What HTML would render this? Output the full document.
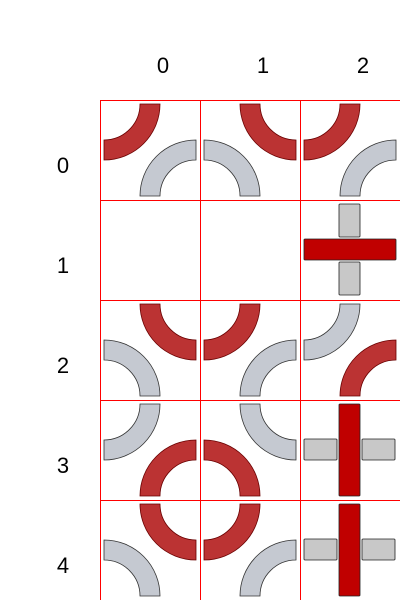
<!DOCTYPE html>
<html><head><meta charset="utf-8"><style>
html,body{margin:0;padding:0;background:#fff;}
svg{display:block;font-family:"Liberation Sans",sans-serif;}
</style></head><body>
<svg id="c" width="400" height="600" viewBox="0 0 400 600"></svg>
<script>
const colLabels = ["0","1","2"];
const rowLabels = ["0","1","2","3","4"];
// arc tiles: red corner / grey corner; cross tiles: orientation of red bar
const tiles = [
  [{t:"arc",red:"TL",grey:"BR"},{t:"arc",red:"TR",grey:"BL"},{t:"arc",red:"TL",grey:"BR"}],
  [{t:"empty"},{t:"empty"},{t:"cross",red:"h"}],
  [{t:"arc",red:"TR",grey:"BL"},{t:"arc",red:"TL",grey:"BR"},{t:"arc",red:"BR",grey:"TL"}],
  [{t:"arc",red:"BR",grey:"TL"},{t:"arc",red:"BL",grey:"TR"},{t:"cross",red:"v"}],
  [{t:"arc",red:"TR",grey:"BL"},{t:"arc",red:"TL",grey:"BR"},{t:"cross",red:"v"}]
];
const NS="http://www.w3.org/2000/svg";
const svg=document.getElementById("c");
const X0=100,Y0=100,CS=100,INS=4,R1=36,R2=56;
const cx=i=>X0+i*CS, cy=j=>Y0+j*CS;
function mk(tag,attrs){const e=document.createElementNS(NS,tag);for(const k in attrs)e.setAttribute(k,attrs[k]);svg.appendChild(e);return e;}
function arcPath(x,y,corner){
  const dx=corner.includes("L")?1:-1, dy=corner.includes("T")?1:-1;
  const px = corner.includes("L")? x+INS : x+CS-INS;
  const py = corner.includes("T")? y+INS : y+CS-INS;
  const s = dx*dy>0?1:0;
  return `M${px+dx*R1},${py} L${px+dx*R2},${py} A${R2},${R2} 0 0 ${s} ${px},${py+dy*R2} L${px},${py+dy*R1} A${R1},${R1} 0 0 ${1-s} ${px+dx*R1},${py} Z`;
}
tiles.forEach((row,j)=>row.forEach((tile,i)=>{
  const x=cx(i),y=cy(j);
  if(tile.t==="arc"){
    const g=mk("path",{d:arcPath(x,y,tile.grey),fill:"#c5c9d1",stroke:"#333","stroke-width":0.8});
    
    
    const r=mk("path",{d:arcPath(x,y,tile.red),fill:"#bb3333",stroke:"#6a0000","stroke-width":0.8});
    
    
  } else if(tile.t==="cross"){
    const gs={fill:"#c8c8c8",stroke:"#222","stroke-width":0.8,rx:1};
    let rects;
    if(tile.red==="h"){
      rects=[[x+39,y+4,21,33],[x+39,y+62,21,33]];
    } else {
      rects=[[x+4,y+39,33,21],[x+62,y+39,33,21]];
    }
    rects.forEach(q=>{
      const e=mk("rect",Object.assign({x:q[0],y:q[1],width:q[2],height:q[3]},gs));
      
      
    });
    const rr = tile.red==="h"?[x+4,y+39,92,21]:[x+39,y+4,21,92];
    const e=mk("rect",{x:rr[0],y:rr[1],width:rr[2],height:rr[3],fill:"#c00000",stroke:"#222","stroke-width":0.8,rx:1});
    
    
  }
}));
// grid lines
for(let i=0;i<=colLabels.length;i++){
  const l=mk("line",{x1:cx(i)+0.5,y1:Y0,x2:cx(i)+0.5,y2:Y0+rowLabels.length*CS,stroke:"#ff0000","stroke-width":1});
  
  
}
for(let j=0;j<=rowLabels.length;j++){
  const l=mk("line",{x1:X0,y1:cy(j)+0.5,x2:X0+colLabels.length*CS,y2:cy(j)+0.5,stroke:"#ff0000","stroke-width":1});
  
  
}
colLabels.forEach((t,i)=>{
  const e=mk("text",{x:cx(i)+63,y:73,"font-size":22,"text-anchor":"middle",fill:"#000"});
  e.textContent=t;
  
  
});
rowLabels.forEach((t,j)=>{
  const e=mk("text",{x:63,y:cy(j)+73,"font-size":22,"text-anchor":"middle",fill:"#000"});
  e.textContent=t;
  
  
});
</script>
</body></html>
